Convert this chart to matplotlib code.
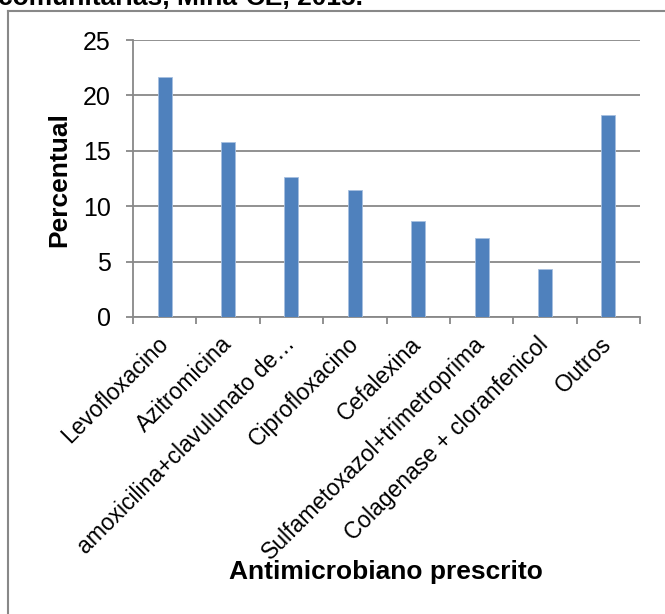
import numpy as np
import matplotlib
matplotlib.use("Agg")
import matplotlib.pyplot as plt
from matplotlib.lines import Line2D

# data
categories = ["Levofloxacino", "Azitromicina", "amoxicilina+clavulunato de\u2026",
              "Ciprofloxacino", "Cefalexina", "Sulfametoxazol+trimetroprima",
              "Colagenase + cloranfenicol", "Outros"]
percent = [21.7, 15.8, 12.6, 11.5, 8.7, 7.1, 4.3, 18.2]
y_ticks = [0, 5, 10, 15, 20, 25]

title_text = "comunitárias, Mina-CE, 2015."
x_label = "Antimicrobiano prescrito"
y_label = "Percentual"

plt.rcParams['font.family'] = ['Liberation Sans', 'DejaVu Sans']

W, H = 665, 614
fig = plt.figure(figsize=(W / 100, H / 100), dpi=100)
grey = '#888888'

# plot area in pixels: x 133..640, y 40..317
ax = fig.add_axes([133 / W, 1 - 317 / H, (640 - 133) / W, (317 - 40) / H])

x = np.arange(len(categories))
ax.bar(x, percent, width=0.22, color='#4F81BD', edgecolor='#A7C0E0', linewidth=0.6, zorder=3)

ax.set_xlim(-0.5, len(categories) - 0.5)
ax.set_ylim(0, 25)
ax.set_yticks(y_ticks)
ax.tick_params(axis='y', labelsize=18, length=5, width=1.3, color=grey, pad=11)
ax.yaxis.grid(True, color=grey, lw=1.3, zorder=0)
ax.set_axisbelow(True)

ax.set_xticks(x)
ax.set_xticklabels(categories, rotation=45, ha='right', va='center',
                   rotation_mode='anchor', fontsize=16.5)
ax.tick_params(axis='x', which='major', length=0, pad=17)
ax.set_xticks(np.arange(-0.5, len(categories), 1), minor=True)
ax.tick_params(axis='x', which='minor', length=5, width=1.3, color=grey)

for side in ['top', 'right']:
    ax.spines[side].set_visible(False)
for side in ['left', 'bottom']:
    ax.spines[side].set_color(grey)
    ax.spines[side].set_linewidth(1.3)

fig.text(386 / W, 1 - 572 / H, x_label, ha='center', va='center', fontsize=19, weight='bold')
fig.text(59 / W, 1 - 180 / H, y_label, ha='center', va='center', rotation=90,
         fontsize=19, weight='bold')

# cut-off title from the page above the chart frame
fig.text(-2 / W, 1 - 5 / H, title_text, ha='left', va='baseline', fontsize=19, weight='bold')

# chart frame (only top and left edges visible)
fig.add_artist(Line2D([8 / W, 1], [1 - 11 / H, 1 - 11 / H], color=grey, lw=1.5))
fig.add_artist(Line2D([8 / W, 8 / W], [1 - 11 / H, 0], color=grey, lw=1.5))

fig.savefig('out.png', dpi=100)
